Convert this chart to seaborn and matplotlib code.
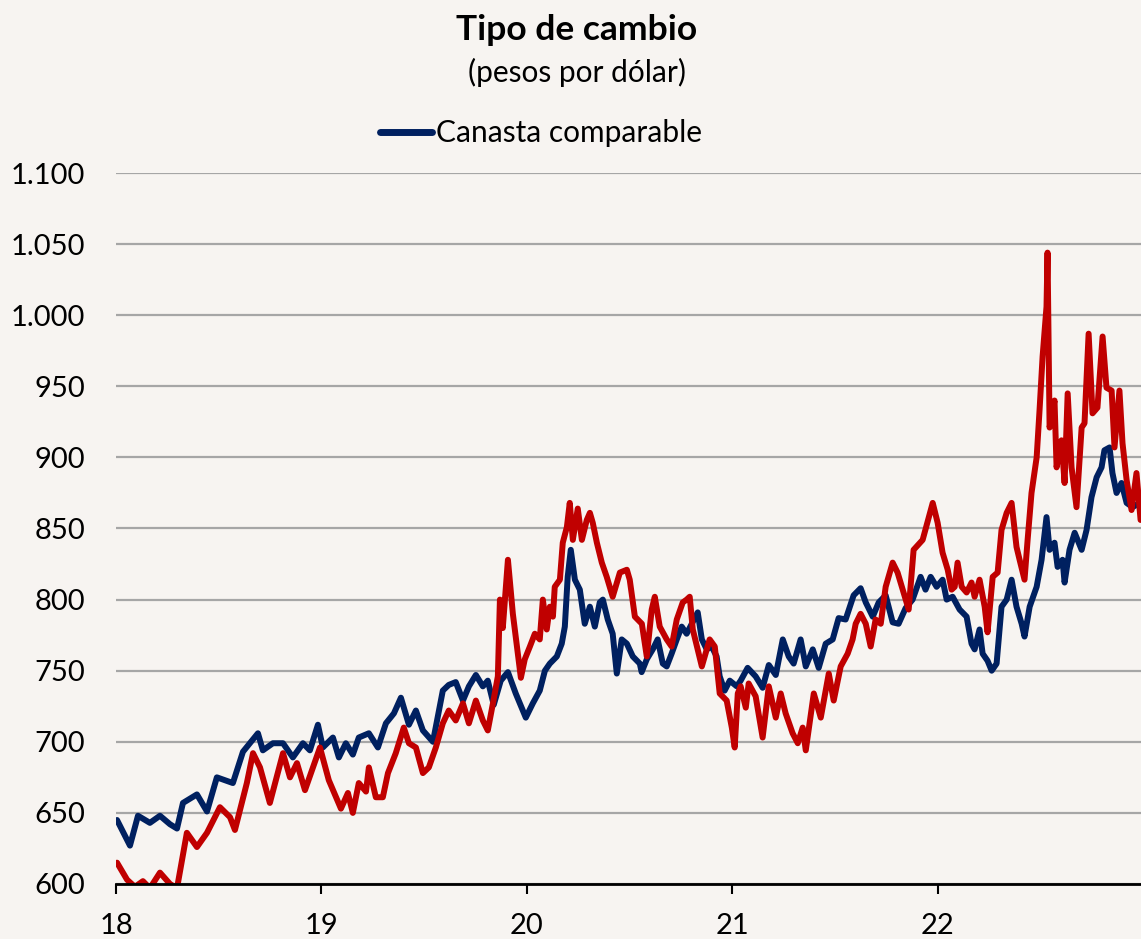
import pandas as pd
import numpy as np
import seaborn as sns
import matplotlib.pyplot as plt
from matplotlib.lines import Line2D
from matplotlib.ticker import FuncFormatter

# fechas en años decimales (18 = ene-2018)
t_canasta = [18.005, 18.068, 18.107, 18.165, 18.214, 18.263, 18.297, 18.326, 18.394, 18.443,
             18.491, 18.569, 18.618, 18.691, 18.715, 18.764, 18.813, 18.861, 18.910, 18.944,
             18.983, 19.007, 19.056, 19.085, 19.119, 19.153, 19.182, 19.231, 19.275, 19.314,
             19.353, 19.387, 19.426, 19.460, 19.494, 19.543, 19.591, 19.620, 19.654, 19.689,
             19.718, 19.752, 19.786, 19.810, 19.839, 19.873, 19.908, 19.946, 19.995, 20.029,
             20.063, 20.088, 20.112, 20.146, 20.170, 20.185, 20.199, 20.214, 20.234, 20.258,
             20.282, 20.307, 20.331, 20.355, 20.370, 20.394, 20.418, 20.438, 20.462, 20.487,
             20.516, 20.550, 20.559, 20.584, 20.613, 20.637, 20.662, 20.681, 20.705, 20.730,
             20.754, 20.778, 20.803, 20.832, 20.852, 20.876, 20.900, 20.924, 20.939, 20.963,
             20.988, 21.022, 21.041, 21.075, 21.114, 21.148, 21.178, 21.212, 21.246, 21.275,
             21.299, 21.333, 21.358, 21.392, 21.421, 21.455, 21.489, 21.518, 21.552, 21.591,
             21.625, 21.650, 21.684, 21.713, 21.747, 21.781, 21.810, 21.844, 21.878, 21.917,
             21.941, 21.966, 21.995, 22.024, 22.044, 22.073, 22.107, 22.141, 22.165, 22.180,
             22.204, 22.219, 22.243, 22.263, 22.287, 22.311, 22.336, 22.360, 22.384, 22.409,
             22.423, 22.448, 22.482, 22.506, 22.530, 22.545, 22.569, 22.584, 22.608, 22.618,
             22.642, 22.667, 22.681, 22.701, 22.725, 22.749, 22.774, 22.798, 22.812, 22.837,
             22.851, 22.871, 22.895, 22.920, 22.949, 22.983]
v_canasta = [645, 627, 648, 643, 648, 642, 639, 657, 663, 651,
             675, 671, 693, 706, 694, 699, 699, 689, 699, 694,
             712, 696, 703, 689, 699, 691, 703, 706, 696, 713,
             720, 731, 712, 722, 708, 700, 736, 740, 742, 729,
             739, 747, 739, 743, 726, 743, 749, 734, 717, 727,
             736, 750, 755, 760, 769, 781, 816, 835, 814, 807,
             783, 795, 781, 798, 800, 786, 776, 748, 772, 769,
             760, 755, 749, 758, 765, 772, 755, 753, 762, 772,
             781, 776, 783, 791, 772, 765, 767, 760, 746, 736,
             743, 739, 743, 752, 746, 738, 754, 747, 772, 760,
             755, 772, 753, 765, 752, 769, 772, 787, 786, 803,
             808, 798, 788, 798, 803, 784, 783, 794, 800, 816,
             807, 816, 809, 814, 800, 802, 793, 788, 769, 765,
             779, 762, 757, 750, 755, 795, 800, 814, 795, 783,
             774, 795, 809, 828, 858, 835, 840, 823, 828, 812,
             835, 847, 842, 835, 849, 872, 886, 893, 905, 907,
             889, 875, 882, 868, 865, 868]

t_observado = [18.005, 18.054, 18.092, 18.131, 18.165, 18.214, 18.263, 18.297, 18.345, 18.394,
               18.443, 18.506, 18.555, 18.579, 18.637, 18.667, 18.701, 18.749, 18.813, 18.847,
               18.881, 18.920, 18.993, 19.036, 19.095, 19.129, 19.153, 19.182, 19.217, 19.231,
               19.265, 19.299, 19.324, 19.362, 19.401, 19.426, 19.460, 19.494, 19.523, 19.557,
               19.591, 19.620, 19.654, 19.689, 19.718, 19.752, 19.786, 19.810, 19.835, 19.859,
               19.869, 19.883, 19.908, 19.932, 19.971, 19.990, 20.015, 20.039, 20.063, 20.078,
               20.097, 20.112, 20.127, 20.136, 20.161, 20.175, 20.195, 20.209, 20.224, 20.248,
               20.268, 20.292, 20.307, 20.321, 20.341, 20.365, 20.389, 20.418, 20.453, 20.487,
               20.501, 20.526, 20.560, 20.584, 20.608, 20.623, 20.647, 20.681, 20.705, 20.730,
               20.759, 20.778, 20.793, 20.808, 20.852, 20.890, 20.915, 20.939, 20.973, 20.998,
               21.012, 21.027, 21.041, 21.066, 21.080, 21.114, 21.148, 21.178, 21.212, 21.236,
               21.260, 21.294, 21.319, 21.343, 21.358, 21.397, 21.431, 21.470, 21.494, 21.528,
               21.562, 21.586, 21.601, 21.625, 21.650, 21.674, 21.698, 21.723, 21.747, 21.781,
               21.805, 21.830, 21.859, 21.883, 21.927, 21.976, 22.000, 22.024, 22.049, 22.068,
               22.083, 22.097, 22.117, 22.141, 22.165, 22.180, 22.204, 22.229, 22.243, 22.268,
               22.292, 22.311, 22.336, 22.360, 22.384, 22.399, 22.423, 22.438, 22.457, 22.482,
               22.496, 22.511, 22.530, 22.535, 22.545, 22.569, 22.579, 22.603, 22.618, 22.633,
               22.652, 22.676, 22.701, 22.715, 22.735, 22.754, 22.778, 22.803, 22.822, 22.847,
               22.861, 22.885, 22.900, 22.920, 22.944, 22.968, 22.988]
v_observado = [615, 603, 598, 602, 597, 608, 600, 597, 636, 626,
               636, 654, 647, 638, 671, 692, 682, 657, 692, 675,
               685, 666, 696, 673, 653, 664, 650, 671, 665, 682,
               661, 661, 678, 692, 710, 699, 696, 678, 682, 696,
               713, 722, 715, 727, 713, 729, 715, 708, 727, 746,
               800, 780, 828, 790, 745, 758, 767, 776, 772, 800,
               779, 795, 788, 809, 814, 840, 851, 868, 842, 864,
               842, 856, 861, 854, 840, 826, 816, 802, 819, 821,
               814, 788, 783, 760, 793, 802, 781, 772, 767, 786,
               798, 800, 802, 779, 753, 772, 767, 734, 729, 710,
               696, 734, 739, 724, 741, 732, 703, 739, 717, 734,
               720, 706, 699, 710, 694, 734, 717, 748, 729, 753,
               762, 772, 783, 790, 783, 767, 786, 783, 809, 826,
               819, 807, 793, 835, 842, 868, 854, 833, 821, 807,
               809, 826, 809, 805, 812, 802, 814, 795, 777, 816,
               819, 849, 861, 868, 837, 828, 814, 842, 875, 900,
               933, 971, 1006, 1044, 921, 940, 893, 912, 882, 945,
               893, 865, 921, 924, 987, 931, 935, 985, 949, 947,
               907, 947, 910, 884, 863, 889, 856]

years = [18, 19, 20, 21, 22]
y_ticks = [600, 650, 700, 750, 800, 850, 900, 950, 1000, 1050, 1100]

fondo = '#F7F4F1'
azul = '#002060'
rojo = '#C00000'

sns.set_style('white')
plt.rcParams['font.family'] = ['Lato', 'DejaVu Sans']
plt.rcParams['text.color'] = 'black'
plt.rcParams['xtick.color'] = 'black'
plt.rcParams['ytick.color'] = 'black'

df_can = pd.DataFrame({'t': t_canasta, 'valor': v_canasta})
df_obs = pd.DataFrame({'t': t_observado, 'valor': v_observado})

fig = plt.figure(figsize=(11.41, 9.39), dpi=100, facecolor=fondo)
ax = fig.add_axes([116 / 1141, 1 - 884 / 939, 1 - 116 / 1141, (884 - 173) / 939])
ax.set_facecolor(fondo)

ax.grid(axis='y', color='#A6A6A6', lw=1.6)
ax.set_axisbelow(True)

sns.lineplot(data=df_can, x='t', y='valor', color=azul, lw=4.3, ax=ax,
             estimator=None, sort=False, zorder=3)
sns.lineplot(data=df_obs, x='t', y='valor', color=rojo, lw=4.3, ax=ax,
             estimator=None, sort=False, zorder=4)

ax.set_xlim(18, 22.99)
ax.set_ylim(600, 1100)
ax.set_xticks(years)
ax.set_xticklabels([str(y) for y in years])
ax.set_yticks(y_ticks)
ax.yaxis.set_major_formatter(FuncFormatter(lambda v, p: f'{int(v):,}'.replace(',', '.')))
ax.set_xlabel('')
ax.set_ylabel('')

for s in ['top', 'right', 'left']:
    ax.spines[s].set_visible(False)
ax.spines['bottom'].set_color('black')
ax.spines['bottom'].set_linewidth(2)
ax.spines['bottom'].set_zorder(5)

ax.tick_params(axis='x', direction='out', length=7, width=1.5, color='black',
               labelsize=21, pad=14, bottom=True)
ax.tick_params(axis='y', length=0, labelsize=21, pad=22)

fig.text(577 / 1141, 1 - 30 / 939, 'Tipo de cambio', ha='center', va='center',
         fontsize=25.5, fontweight='bold')
fig.text(577 / 1141, 1 - 72 / 939, '(pesos por dólar)', ha='center', va='center',
         fontsize=21.5)

handle = Line2D([], [], color=azul, lw=5, solid_capstyle='round')
fig.legend([handle], ['Canasta comparable'], loc='center',
           bbox_to_anchor=(541 / 1141, 1 - 133 / 939), frameon=False,
           fontsize=21.5, handlelength=1.75, handletextpad=0.15)

fig.savefig('out.png', dpi=100, facecolor=fondo)
